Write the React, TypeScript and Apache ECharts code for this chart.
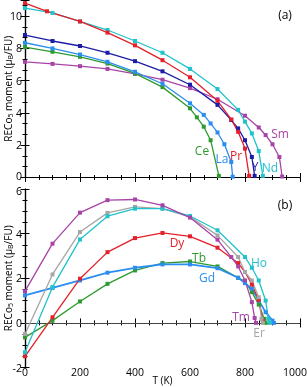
import { useEffect, useRef } from "react";
import * as echarts from "echarts";

// ---- Panel (a): RECo5 moment vs T ----
const pr = [[0, 10.8], [80, 10.3], [200, 9.67], [300, 8.98], [400, 8.19], [500, 7.27], [600, 6.21], [700, 4.75], [750, 3.6], [775, 2.83], [800, 1.79], [815, 0.1]];
const nd = [[0, 10.5], [100, 10.2], [200, 9.67], [300, 9.14], [400, 8.46], [500, 7.73], [600, 6.73], [700, 5.48], [775, 4.19], [800, 3.46], [825, 2.73], [850, 1.64], [865, 0.1]];
const yy = [[0, 8.83], [100, 8.46], [200, 8.15], [300, 7.73], [400, 7.21], [500, 6.58], [600, 5.75], [700, 4.5], [750, 3.56], [775, 3.04], [800, 2.31], [825, 1.27], [835, 0.1]];
const la = [[0, 8.35], [100, 8.0], [200, 7.62], [300, 7.17], [400, 6.55], [500, 5.81], [600, 4.6], [650, 3.88], [675, 3.35], [700, 2.79], [725, 2.06], [750, 0.96], [755, 0.05]];
const ce = [[0, 8.08], [100, 7.79], [200, 7.48], [300, 7.06], [400, 6.45], [500, 5.6], [600, 4.29], [625, 3.73], [650, 3.15], [675, 2.31], [705, 0.1]];
const sm = [[0, 7.17], [100, 7.04], [200, 6.9], [300, 6.73], [400, 6.42], [500, 6.06], [600, 5.54], [700, 4.85], [800, 3.83], [850, 3.1], [875, 2.63], [900, 2.06], [925, 1.27], [935, 0.06]];

// ---- Panel (b) ----
const tm = [[0, 1.42], [100, 3.55], [200, 4.94], [300, 5.5], [400, 5.53], [500, 5.27], [600, 4.72], [700, 3.73], [750, 2.95], [775, 2.53], [800, 1.9], [825, 0.93], [835, 0.22], [840, 0]];
const er = [[0, -0.5], [100, 2.17], [200, 4.07], [300, 4.93], [400, 5.2], [500, 5.12], [600, 4.75], [700, 3.92], [775, 2.95], [800, 2.28], [825, 1.9], [850, 1.15], [860, 0.18], [865, 0]];
const ho = [[0, -1.32], [100, 1.6], [200, 3.74], [300, 4.78], [400, 5.12], [500, 5.12], [600, 4.79], [700, 4.15], [800, 2.95], [825, 2.47], [850, 1.9], [875, 1.0], [885, 0.18], [890, 0]];
const dy = [[0, -1.5], [100, 0.25], [200, 1.98], [300, 3.17], [400, 3.8], [500, 4.03], [600, 3.88], [700, 3.37], [775, 2.68], [800, 2.28], [825, 1.72], [850, 1.03], [865, 0.1]];
const gd = [[0, 1.23], [100, 1.57], [200, 1.9], [300, 2.25], [400, 2.47], [500, 2.62], [600, 2.62], [700, 2.45], [775, 2.02], [800, 1.78], [825, 1.53], [850, 1.0], [875, 0.48], [900, 0.1], [905, 0]];
const tb = [[0, -0.65], [100, 0.1], [200, 0.96], [300, 1.75], [400, 2.35], [500, 2.68], [600, 2.75], [700, 2.53], [775, 2.02], [800, 1.86], [825, 1.38], [850, 0.82], [870, 0.18], [875, 0]];

const C = {
  red: "#e4202a",
  cyan: "#20c2cc",
  navy: "#1c1ca8",
  blue: "#2a8ef0",
  green: "#2e9a30",
  purple: "#a844a8",
  gray: "#a6a6a6",
};

const FONT = "Open Sans";

export default function App() {
  const ref = useRef<HTMLDivElement>(null);
  useEffect(() => {
    const chart = echarts.init(ref.current!, null, { renderer: "svg" });

    const axisLine = { show: true, lineStyle: { color: "#000", width: 1.2 } };
    const mkX = (gridIndex: number, position: string, labels: boolean, extra: any = {}) => ({
      type: "value",
      gridIndex,
      position,
      min: 0,
      max: 1000,
      interval: 200,
      axisLine,
      axisTick: { show: true, inside: true, length: 4.5, lineStyle: { color: "#000" } },
      minorTick: { show: true, splitNumber: 4, length: 2.5, lineStyle: { color: "#000" } },
      splitLine: { show: false },
      axisLabel: {
        show: labels,
        color: "#000",
        fontSize: 10.5,
        fontFamily: FONT,
        margin: -1,
        formatter: (v: number) => (v === 1000 ? "{m|1000}" : String(v)),
        rich: { m: { fontSize: 10.5, fontFamily: FONT, color: "#000", padding: [0, 10, 0, 0] } },
      },
      ...extra,
    });
    const yName = "RECo{s|5} moment (μ{s|B}/FU)";
    const richLab = { fontSize: 10.5, lineHeight: 10, fontFamily: FONT, color: "#000" };
    const mkY = (gridIndex: number, position: string, labels: boolean, min: number, max: number, split: number, showMax: boolean) => ({
      type: "value",
      gridIndex,
      position,
      min,
      max,
      interval: 2,
      axisLine,
      axisTick: { show: true, inside: true, length: 4.5, lineStyle: { color: "#000" } },
      minorTick: { show: true, splitNumber: split, length: 2.5, lineStyle: { color: "#000" } },
      splitLine: { show: false },
      axisLabel: {
        show: labels,
        color: "#000",
        fontSize: 10.5,
        lineHeight: 10,
        fontFamily: FONT,
        margin: 3,
        showMaxLabel: showMax,
        formatter: (v: number) => {
          if (!showMax && v === min) return "{lo|" + v + "}";
          if (showMax && v === max) return "{hi|" + v + "}";
          return String(v);
        },
        rich: {
          lo: { ...richLab, padding: [0, 0, 3, 0] },
          hi: { ...richLab, padding: [3, 0, 0, 0] },
        },
      },
      name: labels ? yName : "",
      nameLocation: "middle",
      nameGap: 11,
      nameMoveOverlap: false,
      nameTextStyle: {
        color: "#000",
        fontSize: 10,
        fontFamily: FONT,
        rich: { s: { fontSize: 7, fontFamily: FONT, color: "#000", padding: [5, 0, 0, 0] } },
      },
    });

    const ser = (name: string, data: number[][], color: string, grid: number, width = 1.3) => ({
      name,
      type: "line",
      data,
      xAxisIndex: grid === 0 ? 0 : 2,
      yAxisIndex: grid === 0 ? 0 : 2,
      symbol: "rect",
      symbolSize: 4,
      lineStyle: { color, width },
      itemStyle: { color },
      z: 3,
    });

    const txt = (t: string, x: number, y: number, color: string, size = 12) => ({
      type: "text",
      x,
      y,
      style: { text: t, fill: color, font: `${size}px "${FONT}"`, align: "center", verticalAlign: "middle" },
      z: 10,
    });

    const gdSeries: any = ser("Gd", gd, C.blue, 1, 1.8);
    gdSeries.markLine = {
      silent: true,
      symbol: "none",
      label: { show: false },
      lineStyle: { color: "#444", width: 1, type: "solid" },
      data: [{ yAxis: 0 }],
      z: 1,
    };

    chart.setOption({
      animation: false,
      grid: [
        { left: 25, right: 7, top: 0, height: 177.5, containLabel: false, outerBoundsMode: "none" },
        { left: 25, right: 7, top: 189, height: 178.5, containLabel: false, outerBoundsMode: "none" },
      ],
      xAxis: [
        mkX(0, "bottom", false),
        mkX(0, "top", false),
        mkX(1, "bottom", true, {
          name: "T (K)",
          nameLocation: "middle",
          nameGap: 7,
          nameMoveOverlap: false,
          nameTextStyle: { color: "#000", fontSize: 10, fontFamily: FONT, padding: [0, 0, 0, 0] },
        }),
        mkX(1, "top", false),
      ],
      yAxis: [
        mkY(0, "left", true, 0, 11, 3, false),
        mkY(0, "right", false, 0, 11, 3, false),
        mkY(1, "left", true, -2, 6, 4, true),
        mkY(1, "right", false, -2, 6, 4, true),
      ],
      series: [
        ser("Sm", sm, C.purple, 0),
        ser("Ce", ce, C.green, 0),
        ser("La", la, C.blue, 0),
        ser("Y", yy, C.navy, 0),
        ser("Nd", nd, C.cyan, 0),
        ser("Pr", pr, C.red, 0),
        ser("Tb", tb, C.green, 1),
        gdSeries,
        ser("Dy", dy, C.red, 1),
        ser("Er", er, C.gray, 1),
        ser("Ho", ho, C.cyan, 1),
        ser("Tm", tm, C.purple, 1),
      ],
      graphic: [
        txt("(a)", 285, 14, "#000", 12),
        txt("Ce", 202, 150, C.green),
        txt("La", 222, 158, C.blue),
        txt("Pr", 236, 155, C.red),
        txt("Y", 255, 166, C.navy),
        txt("Nd", 270, 167, C.cyan),
        txt("Sm", 280, 133, C.purple),
        txt("(b)", 285, 204, "#000", 12),
        txt("Dy", 177, 242, C.red),
        txt("Tb", 199, 257, C.green),
        txt("Gd", 207, 277, C.blue),
        txt("Ho", 259, 262, C.cyan),
        txt("Tm", 241, 316, C.purple),
        txt("Er", 259, 332, C.gray),
      ],
    });
    return () => chart.dispose();
  }, []);
  return <div ref={ref} style={{ position: "fixed", left: 0, top: 0, width: 307, height: 387 }} />;
}
